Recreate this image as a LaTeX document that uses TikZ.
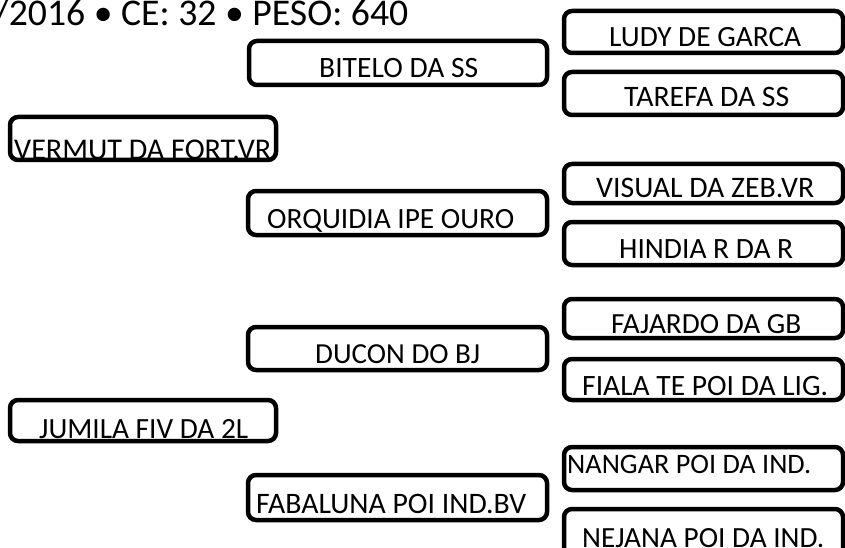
\documentclass[tikz,border=0pt]{standalone}
\usepackage{fontspec}
\setmainfont{Carlito}
\usepackage{graphicx}
\newcommand{\fitw}[2]{\resizebox{#1pt}{!}{#2}}
\begin{document}
\begin{tikzpicture}[x=1pt,y=-1pt,
  box/.style={draw=black,line width=4.5pt,rounded corners=8pt,inner sep=0pt,fill=none},
  lbl/.style={inner sep=0pt,anchor=base west,text=black}]
\useasboundingbox (0,0) rectangle (845,548);
\clip (0,0) rectangle (845,548);
\fill[white] (0,0) rectangle (845,548);
% header
\node[lbl] (hdr) at (-6,26) {\fitw{414}{/2016 • CE: 32 • PESO: 640}};
% boxes
\node[box,minimum width=298pt,minimum height=44pt] (b1) at (398,63) {};
\node[box,minimum width=279pt,minimum height=42pt] (b2) at (703.5,32) {};
\node[box,minimum width=279pt,minimum height=43pt] (b3) at (703.5,93.5) {};
\node[box,minimum width=266pt,minimum height=43pt] (b4) at (143,138.5) {};
\node[box,minimum width=299pt,minimum height=44pt] (b5) at (397.5,213) {};
\node[box,minimum width=279pt,minimum height=39pt] (b6) at (703.5,183.5) {};
\node[box,minimum width=279pt,minimum height=43pt] (b7) at (703.5,243.5) {};
\node[box,minimum width=299pt,minimum height=43pt] (b8) at (397.5,348.5) {};
\node[box,minimum width=279pt,minimum height=39pt] (b9) at (703.5,318.5) {};
\node[box,minimum width=279pt,minimum height=41pt] (b10) at (703.5,379.5) {};
\node[box,minimum width=266pt,minimum height=41pt] (b11) at (143,420.5) {};
\node[box,minimum width=299pt,minimum height=45pt] (b12) at (397.5,497.5) {};
\node[box,minimum width=279pt,minimum height=43pt] (b13) at (703.5,468.5) {};
\node[box,minimum width=279pt,minimum height=51pt] (b14) at (703.5,534.5) {};
% labels
\node[lbl] (t1) at (319,78) {\fitw{159}{BITELO DA SS}};
\node[lbl] (t2) at (609,47) {\fitw{192}{LUDY DE GARCA}};
\node[lbl] (t3) at (624,107) {\fitw{165}{TAREFA DA SS}};
\node[lbl] (t4) at (14,160) {\fitw{257}{VERMUT DA FORT.VR}};
\node[lbl] (t5) at (267,228) {\fitw{247}{ORQUIDIA IPE OURO}};
\node[lbl] (t6) at (596,197) {\fitw{218}{VISUAL DA ZEB.VR}};
\node[lbl] (t7) at (619,258) {\fitw{174}{HINDIA R DA R}};
\node[lbl] (t8) at (315,363) {\fitw{165}{DUCON DO BJ}};
\node[lbl] (t9) at (611,333) {\fitw{190}{FAJARDO DA GB}};
\node[lbl] (t10) at (582,395) {\fitw{246}{FIALA TE POI DA LIG.}};
\node[lbl] (t11) at (39,438) {\fitw{209}{JUMILA FIV DA 2L}};
\node[lbl] (t12) at (256,513) {\fitw{270}{FABALUNA POI IND.BV}};
\node[lbl] (t13) at (567,473) {\fitw{244}{NANGAR POI DA IND.}};
\node[lbl] (t14) at (582,547) {\fitw{242}{NEJANA POI DA IND.}};
\end{tikzpicture}
\end{document}
